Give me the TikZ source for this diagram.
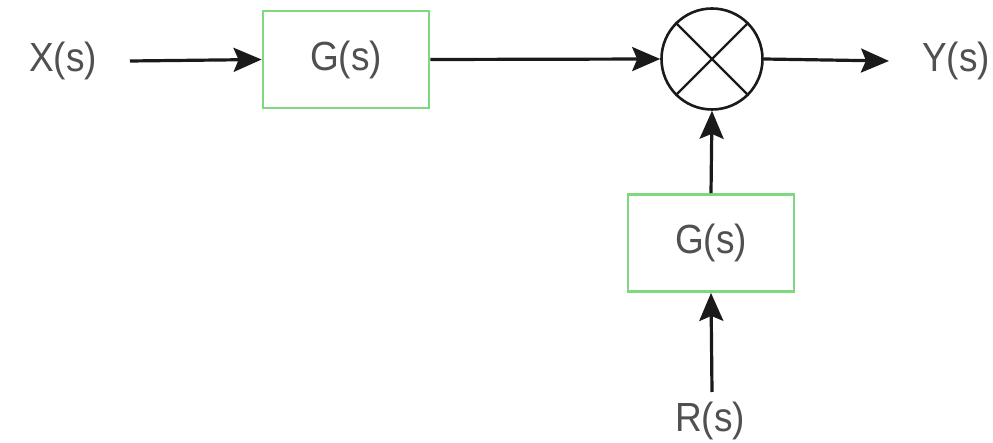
\documentclass[tikz,border=0pt]{standalone}
\usepackage{fontspec}
\setmainfont{Liberation Sans}
\usetikzlibrary{arrows.meta}
\definecolor{boxgreen}{HTML}{7ED87E}
\definecolor{txtgray}{HTML}{505050}
\definecolor{linegray}{HTML}{1A1A1A}
\newcommand{\lbl}[1]{\scalebox{1}[1.1]{\fontsize{37}{40}\selectfont #1}}
\begin{document}
\begin{tikzpicture}[x=1pt,y=-1pt,
  gbox/.style={draw=boxgreen,line width=2.8pt,fill=white,minimum width=166pt,minimum height=97pt,inner sep=0pt,text=txtgray},
  lab/.style={text=txtgray,inner sep=0pt},
  conn/.style={draw=linegray,line width=3.2pt,-{Stealth[length=28pt,width=24pt,inset=5pt]}}]
\useasboundingbox (0,0) rectangle (993,443);
\node[lab] (x) at (63,61) {\lbl{X(s)}};
\node[gbox] (g1) at (346,59.5) {\lbl{G(s)}};
\node[draw=linegray,line width=2.6pt,circle,minimum size=101pt,inner sep=0pt] (sum) at (712,59) {};
\draw[linegray,line width=2.4pt] (sum.45) -- (sum.225) (sum.135) -- (sum.315);
\node[lab] (y) at (956,61) {\lbl{Y(s)}};
\node[gbox] (g2) at (711,243) {\lbl{G(s)}};
\node[lab] (r) at (710,421) {\lbl{R(s)}};
\coordinate (xs) at (130,61);
\coordinate (ye) at (889,61);
\coordinate (rs) at (712,392);
\draw[conn] (xs) -- (g1.west);
\draw[conn] (g1.east) -- (sum.west);
\draw[conn] (sum.east) -- (ye);
\draw[conn] (g2.north) -- (sum.south);
\draw[conn] (rs) -- (g2.south);
\end{tikzpicture}
\end{document}
